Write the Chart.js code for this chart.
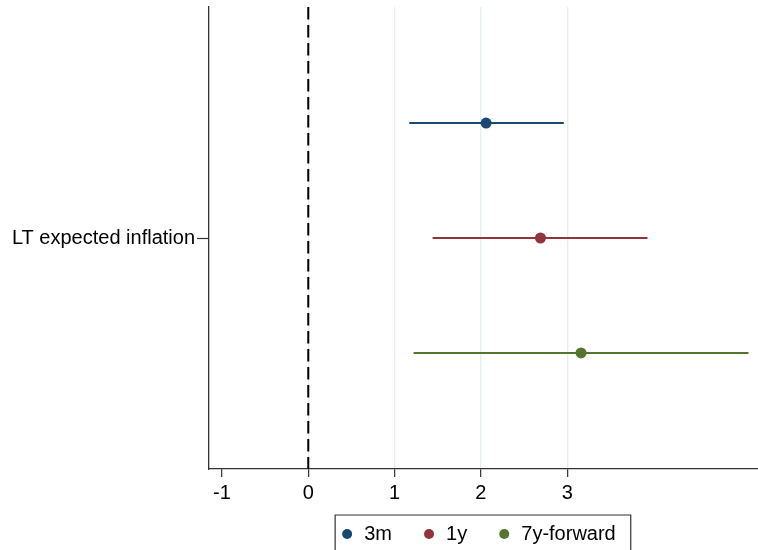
<!DOCTYPE html>
<html>
<head>
<meta charset="utf-8">
<script src="https://cdn.jsdelivr.net/npm/chart.js@4/dist/chart.umd.min.js"></script>
<style>
  html, body { margin: 0; padding: 0; background: #ffffff; }
  #wrap { width: 758px; height: 550px; position: relative; }
</style>
</head>
<body>
<div id="wrap"><canvas id="c" width="758" height="550"></canvas></div>
<script>
// ---- data ----
const categoryLabel = "LT expected inflation";
const seriesNames = ["3m", "1y", "7y-forward"];
const estimates = [2.06, 2.69, 3.16];
const ciLow = [1.17, 1.44, 1.22];
const ciHigh = [2.96, 3.93, 5.10];
const rowPositions = [1, 2, 3];
const xTickValues = [-1, 0, 1, 2, 3];
const categoryTickValue = 2;
const xRange = [-1.15, 5.21];
const yRange = [-0.01, 4.01];
const seriesColors = ["#1a476f", "#90353b", "#55752f"];

const FONT = "'Liberation Sans', Arial, Helvetica, sans-serif";
const LEGEND_GAP = "  ";

const datasets = [];
// reference line at zero
datasets.push({
  type: 'line', label: '_ref',
  data: [{x: 0, y: yRange[0]}, {x: 0, y: yRange[1]}],
  borderColor: '#000000', borderWidth: 2, borderDash: [12.5, 5.5],
  pointRadius: 0, fill: false, order: 5
});
// confidence intervals
seriesNames.forEach((name, i) => {
  datasets.push({
    type: 'line', label: '_ci' + i,
    data: [{x: ciLow[i], y: rowPositions[i]}, {x: ciHigh[i], y: rowPositions[i]}],
    borderColor: seriesColors[i], borderWidth: 2, pointRadius: 0, fill: false, order: 3
  });
});
// point estimates
seriesNames.forEach((name, i) => {
  datasets.push({
    type: 'scatter', label: name,
    data: [{x: estimates[i], y: rowPositions[i]}],
    backgroundColor: seriesColors[i], borderColor: seriesColors[i],
    pointBackgroundColor: seriesColors[i], pointBorderColor: seriesColors[i],
    pointRadius: 5.5, pointBorderWidth: 0, order: 1
  });
});

const legendBoxPlugin = {
  id: 'legendBox',
  afterDraw(chart) {
    const lg = chart.legend;
    if (!lg || !lg.legendHitBoxes || !lg.legendHitBoxes.length) return;
    const hb = lg.legendHitBoxes;
    const first = hb[0], last = hb[hb.length - 1];
    const ctx = chart.ctx;
    ctx.save();
    ctx.font = "20px " + FONT;
    const gapW = ctx.measureText(LEGEND_GAP).width;
    const left = first.left - 5;
    const right = last.left + last.width - gapW + 15;
    const top = first.top - 9;
    ctx.strokeStyle = '#333333';
    ctx.lineWidth = 1.2;
    ctx.beginPath();
    ctx.moveTo(left, 560);
    ctx.lineTo(left, top);
    ctx.lineTo(right, top);
    ctx.lineTo(right, 560);
    ctx.stroke();
    ctx.restore();
  }
};

new Chart(document.getElementById('c'), {
  type: 'scatter',
  data: { datasets },
  plugins: [legendBoxPlugin],
  options: {
    responsive: false,
    animation: false,
    devicePixelRatio: 1,
    layout: { autoPadding: false, padding: { top: 7, right: 0, bottom: -4, left: 0 } },
    plugins: {
      tooltip: { enabled: false },
      legend: {
        display: true, position: 'bottom', fullSize: false, align: 'center',
        labels: {
          filter: (item) => !item.text.startsWith('_'),
          usePointStyle: true, pointStyle: 'circle',
          boxWidth: 14, boxHeight: 7.07, padding: 19,
          color: '#000000',
          font: { family: FONT, size: 20 },
          generateLabels: (chart) => {
            const items = Chart.defaults.plugins.legend.labels.generateLabels(chart);
            return items.map(it => Object.assign(it, {
              text: it.text.startsWith('_') ? it.text : it.text + LEGEND_GAP,
              lineWidth: 0
            }));
          }
        }
      }
    },
    scales: {
      x: {
        type: 'linear', min: xRange[0], max: xRange[1],
        afterBuildTicks: (scale) => { scale.ticks = xTickValues.map(v => ({ value: v })); },
        afterFit: (scale) => { scale.height = 36; scale.paddingLeft = 0; scale.paddingRight = 0; },
        ticks: {
          color: '#000000', font: { family: FONT, size: 20 },
          padding: 4, autoSkip: false, maxRotation: 0,
          callback: (v) => String(v)
        },
        grid: {
          drawOnChartArea: true,
          color: (ctx) => (ctx.tick && ctx.tick.value === -1) ? 'rgba(0,0,0,0)' : '#e5eef0',
          lineWidth: 1.3, tickColor: '#333333', tickLength: 8, tickWidth: 1.2
        },
        border: { display: true, color: '#333333', width: 1.3 }
      },
      y: {
        type: 'linear', reverse: true, min: yRange[0], max: yRange[1],
        afterBuildTicks: (scale) => { scale.ticks = [{ value: categoryTickValue }]; },
        afterFit: (scale) => { scale.width = 209; scale.paddingTop = 0; scale.paddingBottom = 0; },
        ticks: {
          color: '#000000', font: { family: FONT, size: 20 },
          padding: 2, autoSkip: false,
          callback: () => categoryLabel
        },
        grid: { drawOnChartArea: false, tickColor: '#333333', tickLength: 12, tickWidth: 1.2 },
        border: { display: true, color: '#333333', width: 1.3 }
      }
    }
  }
});
</script>
</body>
</html>
